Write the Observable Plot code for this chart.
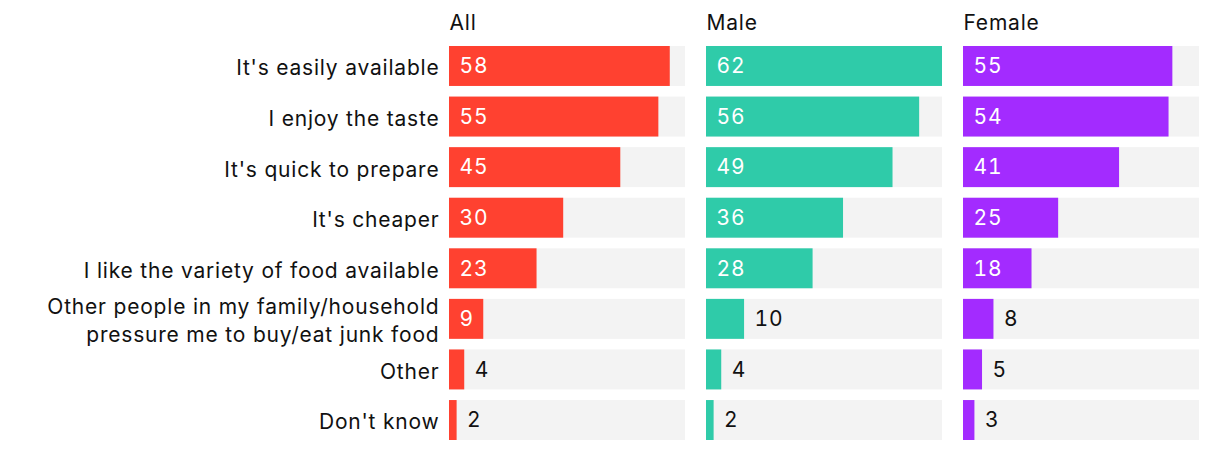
<!DOCTYPE html>
<html>
<head>
<meta charset="utf-8">
<script src="https://cdn.jsdelivr.net/npm/d3@7"></script>
<script src="https://cdn.jsdelivr.net/npm/@observablehq/plot@0.6"></script>
<style>
  html, body { margin: 0; padding: 0; background: #fff; }
  #chart { width: 1220px; height: 450px; }
</style>
</head>
<body>
<div id="chart"></div>
<script>
const categories = [
  "It's easily available",
  "I enjoy the taste",
  "It's quick to prepare",
  "It's cheaper",
  "I like the variety of food available",
  "Other people in my family/household\npressure me to buy/eat junk food",
  "Other",
  "Don't know"
];
const panels = ["All", "Male", "Female"];
const allValues = [58, 55, 45, 30, 23, 9, 4, 2];
const maleValues = [62, 56, 49, 36, 28, 10, 4, 2];
const femaleValues = [55, 54, 41, 25, 18, 8, 5, 3];
const panelColors = ["#ff4130", "#2fcba9", "#a32bff"];

const series = [allValues, maleValues, femaleValues];
const xMax = d3.max(series.flat());
const data = panels.flatMap((p, i) =>
  categories.map((c, j) => ({panel: p, category: c, value: series[i][j]}))
);

// label goes inside the bar when the bar is wide enough to hold it
const panelWidth = 237;
const fits = d => (d.value / xMax) * panelWidth >= String(d.value).length * 11.5 + 20;

const chart = Plot.plot({
  width: 1220,
  height: 450,
  marginLeft: 448,
  marginRight: 20,
  marginTop: 46,
  marginBottom: 10,
  style: {fontFamily: "Inter, 'Noto Sans', sans-serif", fontSize: "21px", letterSpacing: "0.8px", color: "#111", background: "#fff"},
  x: {domain: [0, xMax], axis: null},
  y: {domain: categories, paddingInner: 0.21, paddingOuter: 0, round: false, label: null, axis: null},
  fx: {domain: panels, paddingInner: 0.08, paddingOuter: 0, axis: null, label: null},
  color: {domain: panels, range: panelColors},
  marks: [
    Plot.barX(data, {fx: "panel", y: "category", x1: () => 0, x2: () => xMax, fill: "#f3f3f3"}),
    Plot.barX(data, {fx: "panel", y: "category", x: "value", fill: "panel"}),
    Plot.text(data.filter(fits), {fx: "panel", y: "category", x: () => 0, text: "value", textAnchor: "start", dx: 10, fill: "white", fontSize: 21}),
    Plot.text(data.filter(d => !fits(d)), {fx: "panel", y: "category", x: "value", text: "value", textAnchor: "start", dx: 10, fill: "#111", fontSize: 21}),
    Plot.axisY({tickSize: 0, tickPadding: 10, fontSize: 21, lineHeight: 1.33, label: null}),
    Plot.text(panels, {fx: d => d, text: d => d, frameAnchor: "top-left", textAnchor: "start", lineAnchor: "bottom", dy: -17, fontSize: 21, fill: "#111"})
  ]
});
document.getElementById("chart").appendChild(chart);
</script>
</body>
</html>
